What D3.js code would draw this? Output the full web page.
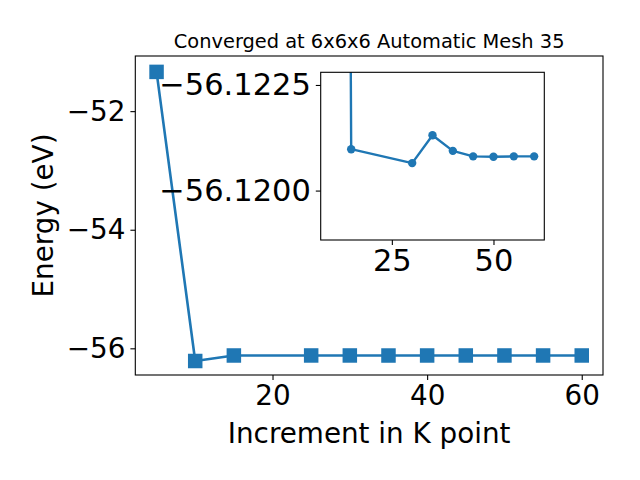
<!DOCTYPE html>
<html><head><meta charset="utf-8">
<script src="https://cdn.jsdelivr.net/npm/d3@7"></script>
<style>body{margin:0;background:#fff}svg{display:block;font-family:"DejaVu Sans",sans-serif}</style>
</head><body>
<script>
// ---- data ----
const kpoints = [5, 10, 15, 25, 30, 35, 40, 45, 50, 55, 60];
const energy = [-51.338, -56.214, -56.1210, -56.1207, -56.12065, -56.12131, -56.12094, -56.12081, -56.12080, -56.12081, -56.12081];
const insetK = [10, 15, 30, 35, 40, 45, 50, 55, 60];
const insetEnergy = [-56.214, -56.12098, -56.12065, -56.12131, -56.12094, -56.12081, -56.12080, -56.12081, -56.12081];
const mainXTicks = [20, 40, 60];
const mainYTicks = [-52, -54, -56];
const insetXTicks = [25, 50];
const insetYTicks = [-56.1225, -56.1200];
const titleText = "Converged at 6x6x6 Automatic Mesh 35";
const xLabel = "Increment in K point";
const yLabel = "Energy (eV)";

const W = 640, H = 480, C = "#1f77b4";
const svg = d3.select("body").append("svg").attr("width", W).attr("height", H);
svg.append("rect").attr("width", W).attr("height", H).attr("fill", "#fff");

const fmtMinus = s => String(s).replace("-", "\u2212");

// ---- main axes ----
const M = {l: 135.3, r: 603, t: 56, b: 375};
const x = d3.scaleLinear().domain([2.25, 62.75]).range([M.l, M.r]);
const y = d3.scaleLinear().domain([-56.45, -51.07]).range([M.b, M.t]);

svg.append("clipPath").attr("id", "cm").append("rect")
  .attr("x", M.l).attr("y", M.t).attr("width", M.r - M.l).attr("height", M.b - M.t);

const mainPts = kpoints.map((k, i) => [k, energy[i]]);
const gm = svg.append("g").attr("clip-path", "url(#cm)");
gm.append("path").datum(mainPts)
  .attr("d", d3.line().x(d => x(d[0])).y(d => y(d[1])))
  .attr("fill", "none").attr("stroke", C).attr("stroke-width", 2.6).attr("stroke-linejoin", "round");
const S = 14.5;
gm.selectAll("rect.m").data(mainPts).join("rect").attr("class", "m")
  .attr("x", d => x(d[0]) - S / 2).attr("y", d => y(d[1]) - S / 2)
  .attr("width", S).attr("height", S).attr("fill", C);

const xa = svg.append("g").attr("transform", `translate(0,${M.b})`)
  .call(d3.axisBottom(x).tickValues(mainXTicks).tickSize(4.9).tickPadding(4.9).tickFormat(d3.format("d")));
const ya = svg.append("g").attr("transform", `translate(${M.l},0)`)
  .call(d3.axisLeft(y).tickValues(mainYTicks).tickSize(4.9).tickPadding(4.9).tickFormat(d => fmtMinus(d)));
[xa, ya].forEach(g => {
  g.select(".domain").remove();
  g.selectAll("line").attr("stroke", "#000").attr("stroke-width", 1.1);
  g.selectAll("text").attr("font-size", 27.8).attr("fill", "#000").attr("font-family", "DejaVu Sans");
});
svg.append("rect").attr("x", M.l).attr("y", M.t).attr("width", M.r - M.l).attr("height", M.b - M.t)
  .attr("fill", "none").attr("stroke", "#000").attr("stroke-width", 1.1);

svg.append("text").attr("x", (M.l + M.r) / 2).attr("y", 47.5).attr("text-anchor", "middle")
  .attr("font-size", 19.4).text(titleText);
svg.append("text").attr("x", (M.l + M.r) / 2).attr("y", 443).attr("text-anchor", "middle")
  .attr("font-size", 27.8).text(xLabel);
svg.append("text").attr("transform", `translate(53,${(M.t + M.b) / 2}) rotate(-90)`)
  .attr("text-anchor", "middle").attr("font-size", 27.8).text(yLabel);

// ---- inset axes ----
const I = {l: 320.7, r: 544.3, t: 72.3, b: 240};
const xi = d3.scaleLinear().domain([7.5, 62.5]).range([I.l, I.r]);
const yi = d3.scaleLinear().domain([-56.1228, -56.11883]).range([I.t, I.b]);

svg.append("rect").attr("x", I.l).attr("y", I.t).attr("width", I.r - I.l).attr("height", I.b - I.t).attr("fill", "#fff");
svg.append("clipPath").attr("id", "ci").append("rect")
  .attr("x", I.l).attr("y", I.t).attr("width", I.r - I.l).attr("height", I.b - I.t);
const insetPts = insetK.map((k, i) => [k, insetEnergy[i]]);
const gi = svg.append("g").attr("clip-path", "url(#ci)");
gi.append("path").datum(insetPts)
  .attr("d", d3.line().x(d => xi(d[0])).y(d => yi(d[1])))
  .attr("fill", "none").attr("stroke", C).attr("stroke-width", 2.4).attr("stroke-linejoin", "round");
gi.selectAll("circle").data(insetPts).join("circle")
  .attr("cx", d => xi(d[0])).attr("cy", d => yi(d[1])).attr("r", 4.2).attr("fill", C);

const xia = svg.append("g").attr("transform", `translate(0,${I.b})`)
  .call(d3.axisBottom(xi).tickValues(insetXTicks).tickSize(4.9).tickPadding(4.9).tickFormat(d3.format("d")));
const yia = svg.append("g").attr("transform", `translate(${I.l},0)`)
  .call(d3.axisLeft(yi).tickValues(insetYTicks).tickSize(4.9).tickPadding(4.9).tickFormat(d => fmtMinus(d3.format(".4f")(d))));
[xia, yia].forEach(g => {
  g.select(".domain").remove();
  g.selectAll("line").attr("stroke", "#000").attr("stroke-width", 1.1);
  g.selectAll("text").attr("font-size", 30.5).attr("fill", "#000").attr("font-family", "DejaVu Sans");
});
svg.append("rect").attr("x", I.l).attr("y", I.t).attr("width", I.r - I.l).attr("height", I.b - I.t)
  .attr("fill", "none").attr("stroke", "#000").attr("stroke-width", 1.1);
</script>
</body></html>
